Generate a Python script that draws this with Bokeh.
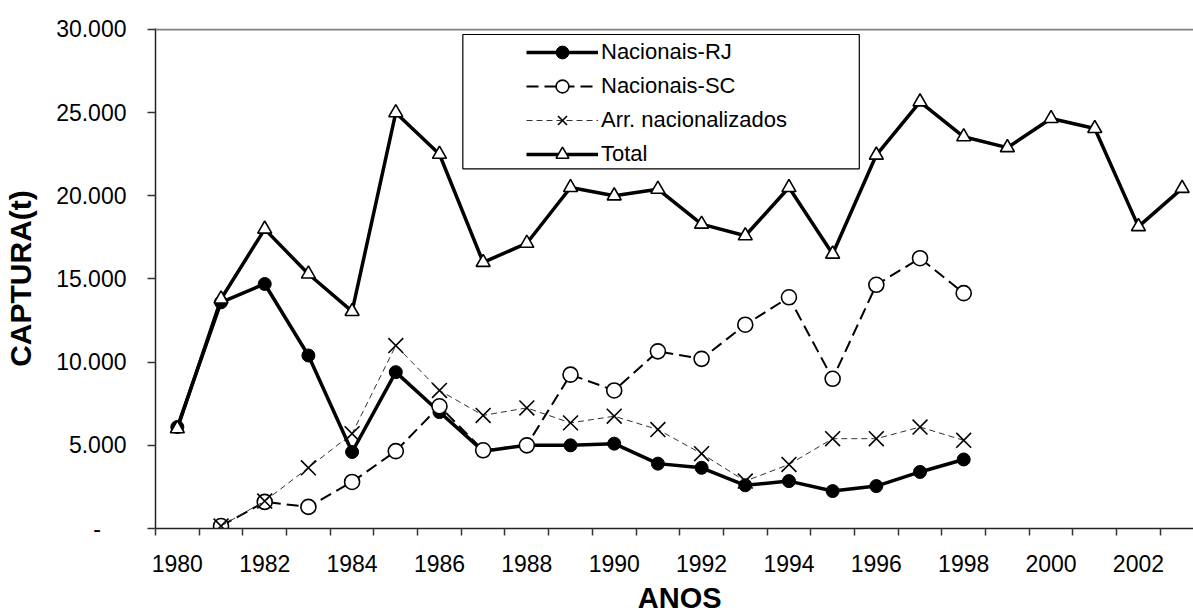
from bokeh.plotting import figure
from bokeh.models import Range1d, FixedTicker, Legend, LegendItem, Span, BoxAnnotation, Label
from bokeh.embed import file_html
from bokeh.resources import INLINE

# ---------------- data ----------------
years_total = list(range(1980, 2004))
total = [6000, 13800, 18000, 15300, 13050, 25000, 22500, 16000, 17150, 20500,
         20000, 20400, 18300, 17600, 20500, 16500, 22450, 25650, 23550, 22900,
         24650, 24050, 18150, 20450]

years_rj = list(range(1980, 1999))
rj = [6100, 13600, 14700, 10400, 4600, 9400, 7000, 4650, 5000, 5000,
      5100, 3900, 3650, 2600, 2850, 2250, 2550, 3400, 4150]

years_sc = list(range(1981, 1999))
sc = [150, 1600, 1300, 2800, 4650, 7350, 4700, 5000, 9250, 8300,
      10650, 10200, 12250, 13900, 9000, 14650, 16250, 14150]

years_arr = list(range(1981, 1999))
arr = [150, 1650, 3650, 5700, 11000, 8300, 6800, 7250, 6350, 6750,
       5950, 4500, 2850, 3850, 5400, 5400, 6100, 5300]

x_tick_years = list(range(1980, 2004, 2))
y_ticks = [0, 5000, 10000, 15000, 20000, 25000, 30000]
y_tick_labels = ["-\u00a0\u00a0\u00a0\u00a0", "5.000", "10.000", "15.000", "20.000", "25.000", "30.000"]

series_names = ["Nacionais-RJ", "Nacionais-SC", "Arr. nacionalizados", "Total"]
x_title = "ANOS"
y_title = "CAPTURA(t)"

FONT = "Liberation Sans"

# ---------------- figure ----------------
first, last = years_total[0] - 0.5, years_total[-1] + 0.5
p = figure(width=1193, height=614, output_backend="svg", toolbar_location=None,
           x_range=Range1d(first, 2003.26), y_range=Range1d(0, 30060),
           min_border_left=155, min_border_right=0, min_border_top=28, min_border_bottom=86)
p.outline_line_color = None
p.xgrid.visible = False
p.ygrid.visible = False
p.background_fill_color = "white"
p.border_fill_color = "white"

# x axis: category boundaries as tick marks, labels at category centres
xa = p.xaxis[0]
xa.ticker = FixedTicker(ticks=x_tick_years,
                        minor_ticks=[y - 0.5 for y in years_total] + [last])
xa.major_tick_line_color = None
xa.minor_tick_out = 7
xa.minor_tick_in = 0
xa.minor_tick_line_color = "#333333"
xa.minor_tick_line_width = 1.5
xa.axis_line_color = "#222222"
xa.axis_line_width = 1.5
xa.major_label_text_font = FONT
xa.major_label_text_font_size = "23px"
xa.major_label_text_color = "black"
xa.major_label_standoff = 19

ya = p.yaxis[0]
ya.ticker = FixedTicker(ticks=y_ticks, minor_ticks=[])
ya.major_label_overrides = {t: l for t, l in zip(y_ticks, y_tick_labels)}
ya.major_tick_out = 8
ya.major_tick_in = 0
ya.major_tick_line_color = "#333333"
ya.major_tick_line_width = 1.5
ya.minor_tick_line_color = None
ya.axis_line_color = "#222222"
ya.axis_line_width = 1.5
ya.major_label_text_font = FONT
ya.major_label_text_font_size = "23px"
ya.major_label_text_color = "black"
ya.major_label_standoff = 21
ya.axis_label = y_title
ya.axis_label_text_font = FONT
ya.axis_label_text_font_style = "bold"
ya.axis_label_text_font_size = "30px"
ya.axis_label_text_color = "black"
ya.axis_label_standoff = 16

# top border of plot area
p.add_layout(Span(location=30000, dimension="width", line_color="#808080", line_width=2))

# ---------------- series ----------------
r_rj_l = p.line(years_rj, rj, line_color="black", line_width=3.5)
r_rj_m = p.scatter(years_rj, rj, marker="circle", size=13, fill_color="black",
                   line_color="black", line_width=1)

r_sc_l = p.line(years_sc, sc, line_color="black", line_width=2, line_dash="12 6")
r_sc_m = p.scatter(years_sc, sc, marker="circle", size=15, fill_color="white",
                   line_color="black", line_width=1.6)

r_arr_l = p.line(years_arr, arr, line_color="#333333", line_width=1, line_dash="6 4")
r_arr_m = p.scatter(years_arr, arr, marker="x", size=21, line_color="black", line_width=1.6)

r_tot_l = p.line(years_total, total, line_color="black", line_width=3.5)
r_tot_m = p.scatter(years_total, total, marker="triangle", size=14, fill_color="white",
                    line_color="black", line_width=1.6)

# ---------------- legend ----------------
box = BoxAnnotation(left=1986.535, right=1995.61, bottom=21625, top=29699,
                    fill_color="white", fill_alpha=1.0, line_color="black", line_width=1.2,
                    line_alpha=1.0)
p.add_layout(box)

legend = Legend(items=[
    LegendItem(label=series_names[0], renderers=[r_rj_l, r_rj_m]),
    LegendItem(label=series_names[1], renderers=[r_sc_l, r_sc_m]),
    LegendItem(label=series_names[2], renderers=[r_arr_l, r_arr_m]),
    LegendItem(label=series_names[3], renderers=[r_tot_l, r_tot_m]),
], location=(371, 358), orientation="vertical")
legend.border_line_color = None
legend.background_fill_alpha = 0
legend.padding = 4
legend.spacing = 2
legend.margin = 0
legend.glyph_width = 72
legend.glyph_height = 32
legend.label_height = 32
legend.label_standoff = 3
legend.label_text_font = FONT
legend.label_text_font_size = "22px"
legend.label_text_color = "black"
p.add_layout(legend)

# x axis title, placed in the panel below the axis so it is not clipped
p.add_layout(Label(x=(first + last) / 2, y=0, y_offset=-69, text=x_title,
                   text_font=FONT, text_font_style="bold", text_font_size="29px",
                   text_align="center", text_baseline="alphabetic", text_color="black"),
             "below")

open("out.html", "w").write(file_html(p, INLINE))
